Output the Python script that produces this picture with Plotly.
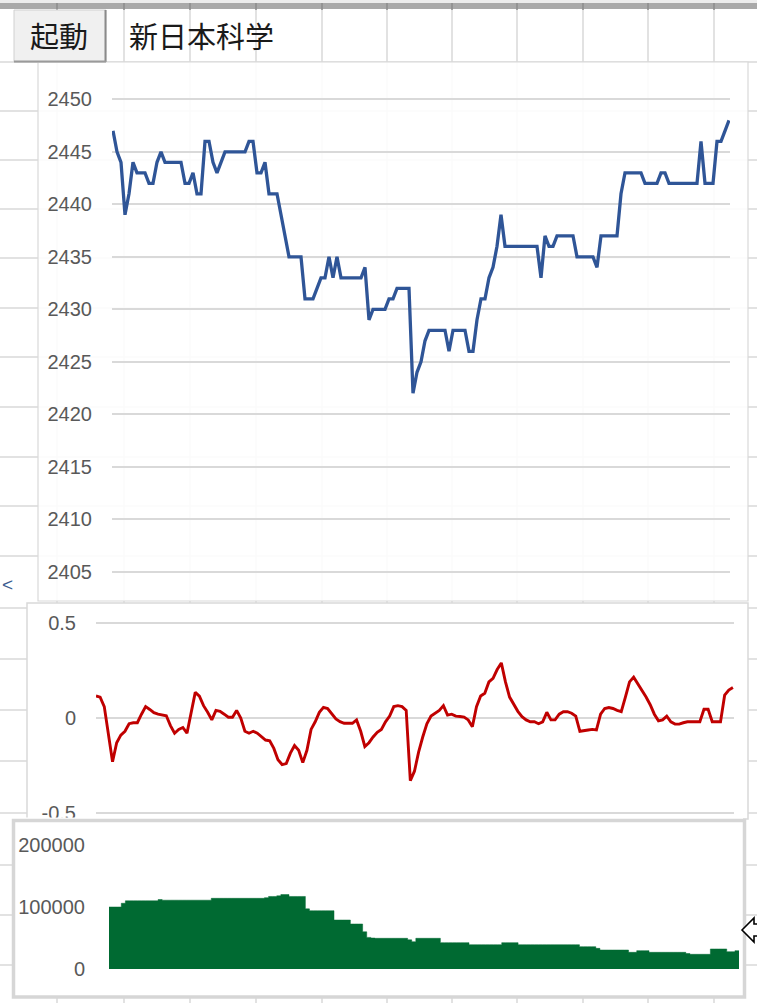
import plotly.graph_objects as go

W, H = 757, 1003


def px(x):
    return x / W


def py(y):
    return 1 - y / H


# ---------------- data ----------------
price = [
    2447, 2445, 2444, 2439, 2441, 2444, 2443, 2443, 2443, 2442,
    2442, 2444, 2445, 2444, 2444, 2444, 2444, 2444, 2442, 2442,
    2443, 2441, 2441, 2446, 2446, 2444, 2443, 2444, 2445, 2445,
    2445, 2445, 2445, 2445, 2446, 2446, 2443, 2443, 2444, 2441,
    2441, 2441, 2439, 2437, 2435, 2435, 2435, 2435, 2431, 2431,
    2431, 2432, 2433, 2433, 2435, 2433, 2435, 2433, 2433, 2433,
    2433, 2433, 2433, 2434, 2429, 2430, 2430, 2430, 2430, 2431,
    2431, 2432, 2432, 2432, 2432, 2422, 2424, 2425, 2427, 2428,
    2428, 2428, 2428, 2428, 2426, 2428, 2428, 2428, 2428, 2426,
    2426, 2429, 2431, 2431, 2433, 2434, 2436, 2439, 2436, 2436,
    2436, 2436, 2436, 2436, 2436, 2436, 2436, 2433, 2437, 2436,
    2436, 2437, 2437, 2437, 2437, 2437, 2435, 2435, 2435, 2435,
    2435, 2434, 2437, 2437, 2437, 2437, 2437, 2441, 2443, 2443,
    2443, 2443, 2443, 2442, 2442, 2442, 2442, 2443, 2443, 2442,
    2442, 2442, 2442, 2442, 2442, 2442, 2442, 2446, 2442, 2442,
    2442, 2446, 2446, 2447, 2448,
]

oscillator = [
    0.116, 0.11, 0.06, -0.08, -0.23, -0.13, -0.09, -0.07, -0.03, -0.025,
    -0.025, 0.02, 0.06, 0.045, 0.028, 0.02, 0.016, 0.012, -0.04, -0.08,
    -0.06, -0.05, -0.08, 0.03, 0.135, 0.115, 0.065, 0.03, -0.01, 0.04,
    0.035, 0.02, 0.004, 0.004, 0.04, 0.0, -0.07, -0.08, -0.07, -0.08,
    -0.1, -0.116, -0.12, -0.16, -0.22, -0.245, -0.24, -0.185, -0.145, -0.17,
    -0.235, -0.17, -0.06, -0.02, 0.03, 0.056, 0.05, 0.02, -0.005, -0.019,
    -0.028, -0.028, -0.028, -0.01, -0.07, -0.15, -0.13, -0.1, -0.075, -0.06,
    -0.02, 0.01, 0.06, 0.065, 0.06, 0.04, -0.33, -0.28, -0.18, -0.1,
    -0.03, 0.01, 0.025, 0.04, 0.065, 0.015, 0.02, 0.01, 0.008, 0.005,
    -0.01, -0.046, 0.06, 0.116, 0.13, 0.19, 0.209, 0.255, 0.29, 0.19,
    0.11, 0.07, 0.035, 0.007, -0.01, -0.02, -0.02, -0.03, -0.02, 0.03,
    -0.01, -0.01, 0.02, 0.033, 0.033, 0.025, 0.01, -0.07, -0.065, -0.063,
    -0.06, -0.063, 0.02, 0.05, 0.055, 0.05, 0.04, 0.033, 0.11, 0.19,
    0.215, 0.18, 0.15, 0.11, 0.07, 0.02, -0.015, -0.01, 0.01, -0.02,
    -0.032, -0.032, -0.025, -0.02, -0.02, -0.02, -0.02, 0.046, 0.046, -0.02,
    -0.02, -0.02, 0.12, 0.147, 0.16,
]

volume = [
    100000, 100000, 100000, 106000, 110000, 110000, 110000, 110000, 110000, 110000,
    110000, 110000, 112000, 111000, 111000, 111000, 111000, 111000, 111000, 111000,
    111000, 111000, 111000, 111000, 111000, 114000, 114000, 114000, 114000, 114000,
    114000, 114000, 114000, 114000, 114000, 114000, 114000, 114000, 115000, 117000,
    117000, 118000, 120000, 120000, 117000, 117000, 117000, 117000, 97000, 94000,
    94000, 94000, 94000, 94000, 94000, 79000, 79000, 79000, 79000, 72600,
    72600, 72600, 60000, 51000, 50000, 49500, 49500, 49500, 49500, 49500,
    49500, 49500, 49500, 47000, 44000, 49500, 49500, 49500, 49500, 49500,
    49500, 42500, 42500, 42500, 42500, 42500, 42500, 42500, 39200, 39200,
    39200, 39200, 39200, 39200, 39200, 39200, 42500, 42500, 42500, 42500,
    39200, 39200, 39200, 39200, 39200, 39200, 39200, 39200, 39200, 39200,
    39200, 39200, 39200, 39200, 39200, 36000, 36000, 36000, 36000, 33300,
    30600, 30600, 30600, 30600, 30600, 30600, 30600, 26900, 26900, 29600,
    29600, 29600, 26900, 26900, 26900, 26900, 26900, 26900, 26900, 26900,
    26900, 25000, 23700, 23700, 23700, 23700, 23700, 32300, 32300, 32300,
    32300, 27900, 27900, 29600, 29600,
]

price_ticks = [2405, 2410, 2415, 2420, 2425, 2430, 2435, 2440, 2445, 2450]
osc_ticks = [-0.5, 0, 0.5]
osc_labels = ["-0.5", "0", "0.5"]
vol_ticks = [0, 100000, 200000]
vol_labels = ["0", "100000", "200000"]

button_label = "起動"
cell_label = "新日本科学"

idx1 = list(range(len(price)))
idx2 = list(range(len(oscillator)))
idx3 = list(range(len(volume)))

# ---------------- figure ----------------
fig = go.Figure()
fig.add_trace(go.Scatter(x=idx1, y=price, mode="lines", xaxis="x", yaxis="y",
                         line=dict(color="#2f5597", width=3.3), hoverinfo="skip"))
fig.add_trace(go.Scatter(x=idx2, y=oscillator, mode="lines", xaxis="x2", yaxis="y2",
                         line=dict(color="#c00000", width=2.9), hoverinfo="skip"))
fig.add_trace(go.Scatter(x=idx3, y=volume, mode="lines", xaxis="x3", yaxis="y3",
                         fill="tozeroy", fillcolor="#006a32",
                         line=dict(color="#006a32", width=0.5, shape="hv"),
                         hoverinfo="skip"))

tick_font = dict(family="Liberation Sans, Arial, sans-serif", size=20, color="#595959")
grid = dict(gridcolor="#d9d9d9", gridwidth=1.5, zeroline=False, showline=False,
            ticks="", automargin=False)
noax = dict(showgrid=False, zeroline=False, showline=False, showticklabels=False,
            ticks="", automargin=False)

# sheet grid lines
cols = [57, 124, 190, 256, 322, 387, 452, 517, 583, 648, 714]
rows = [62, 111, 160, 209, 258, 308, 357, 407, 457, 506, 556, 608, 659, 710, 761,
        813, 865, 915, 965]
shapes = []
sheet_line = dict(color="#d9d9d9", width=1.5)
for c in cols:
    shapes.append(dict(type="line", xref="paper", yref="paper", layer="below",
                       x0=px(c), x1=px(c), y0=py(0), y1=py(H), line=sheet_line))
for r in rows:
    shapes.append(dict(type="line", xref="paper", yref="paper", layer="below",
                       x0=0, x1=1, y0=py(r), y1=py(r), line=sheet_line))


def rect(x0, y0, x1, y1, fill, line_color=None, lw=0, layer="below"):
    return dict(type="rect", xref="paper", yref="paper", layer=layer,
                x0=px(x0), x1=px(x1), y0=py(y1), y1=py(y0),
                fillcolor=fill,
                line=dict(color=line_color or "rgba(0,0,0,0)", width=lw))


# header band
shapes.append(rect(0, 0, W, 3, "#ececec"))
shapes.append(rect(0, 3, W, 9, "#a9a9a9"))
for c in cols:
    shapes.append(dict(type="line", xref="paper", yref="paper", layer="below",
                       x0=px(c), x1=px(c), y0=py(3), y1=py(10),
                       line=dict(color="#8c8c8c", width=1.5)))

# chart boxes
shapes.append(rect(38, 62, 748, 601, "rgba(255,255,255,0.88)", "#d9d9d9", 1.2))
shapes.append(rect(27, 603, 748, 819, "white", "#d9d9d9", 1.5))
shapes.append(rect(12, 819, 745, 998, "white"))

# button
shapes.append(rect(14, 10, 106, 62, "#f0f0f0", "#d0d0d0", 1))
shapes.append(dict(type="line", xref="paper", yref="paper", layer="below",
                   x0=px(105.5), x1=px(105.5), y0=py(10), y1=py(62),
                   line=dict(color="#8a8a8a", width=2)))
shapes.append(dict(type="line", xref="paper", yref="paper", layer="below",
                   x0=px(14), x1=px(106), y0=py(61.5), y1=py(61.5),
                   line=dict(color="#9a9a9a", width=2)))

# above-layer: chart 3 frame covering the bottom of chart 2
shapes.append(rect(14, 817.5, 743, 834, "white", layer="above"))
shapes.append(rect(13.5, 820.5, 744.5, 997, "rgba(0,0,0,0)", "#d6d6d6", 3.5, layer="above"))

# resize cursor
pts = [(742, 930), (754, 918), (754, 924), (770, 924), (770, 936), (754, 936), (754, 942)]
path = "M " + " L ".join(f"{px(x):.5f},{py(y):.5f}" for x, y in pts) + " Z"
shapes.append(dict(type="path", xref="paper", yref="paper", layer="above", path=path,
                   fillcolor="white", line=dict(color="black", width=1.6)))

annotations = [
    dict(text=button_label, x=px(59), y=py(35), xref="paper", yref="paper",
         showarrow=False, xanchor="center", yanchor="middle",
         font=dict(family="Noto Sans CJK JP", size=29, color="#1a1a1a")),
    dict(text=cell_label, x=px(127), y=py(35), xref="paper", yref="paper",
         showarrow=False, xanchor="left", yanchor="middle",
         font=dict(family="Noto Sans CJK JP", size=29, color="#1a1a1a")),
    dict(text="<", x=px(1), y=py(584), xref="paper", yref="paper",
         showarrow=False, xanchor="left", yanchor="middle", borderpad=0,
         font=dict(family="Liberation Sans", size=19, color="#3b5b8f")),
]

fig.update_layout(
    width=W, height=H, autosize=False,
    margin=dict(l=0, r=0, t=0, b=0, pad=0, autoexpand=False),
    paper_bgcolor="white", plot_bgcolor="rgba(0,0,0,0)",
    showlegend=False,
    shapes=shapes,
    annotations=annotations,
    xaxis=dict(domain=[px(112), px(730)], range=[-0.25, 154.25], anchor="y", **noax),
    yaxis=dict(domain=[py(598), py(66)], range=[2402.505, 2453.171], anchor="x",
               tickvals=price_ticks, tickfont=tick_font, ticklabelstandoff=19, **grid),
    xaxis2=dict(domain=[px(96), px(734)], range=[0, 154.26], anchor="y2", **noax),
    yaxis2=dict(domain=[py(816), py(607)], range=[-0.5158, 0.5842], anchor="x2",
                tickvals=osc_ticks, ticktext=osc_labels, tickfont=tick_font,
                ticklabelstandoff=19, **grid),
    xaxis3=dict(domain=[px(109), px(739)], range=[0, 154], anchor="y3", **noax),
    yaxis3=dict(domain=[py(975), py(838)], range=[-9677, 211290], anchor="x3",
                tickvals=vol_ticks, ticktext=vol_labels, tickfont=tick_font,
                ticklabelstandoff=23, showgrid=False, zeroline=False, showline=False,
                ticks="", automargin=False),
    yaxis4=dict(overlaying="y3", anchor="x3", range=[-9677, 211290],
                tickvals=[100000], showticklabels=False, **grid),
)

page_fix = (
    "document.documentElement.style.margin='0';"
    "document.documentElement.style.overflow='hidden';"
    "document.body.style.margin='0';"
    "document.body.style.overflow='hidden';"
    "var gd=document.getElementById('{plot_id}');"
    "gd.style.position='fixed';gd.style.top='0px';gd.style.left='0px';"
)

fig.write_html(
    "out.html",
    config={"displayModeBar": False},
    post_script=page_fix,
)
